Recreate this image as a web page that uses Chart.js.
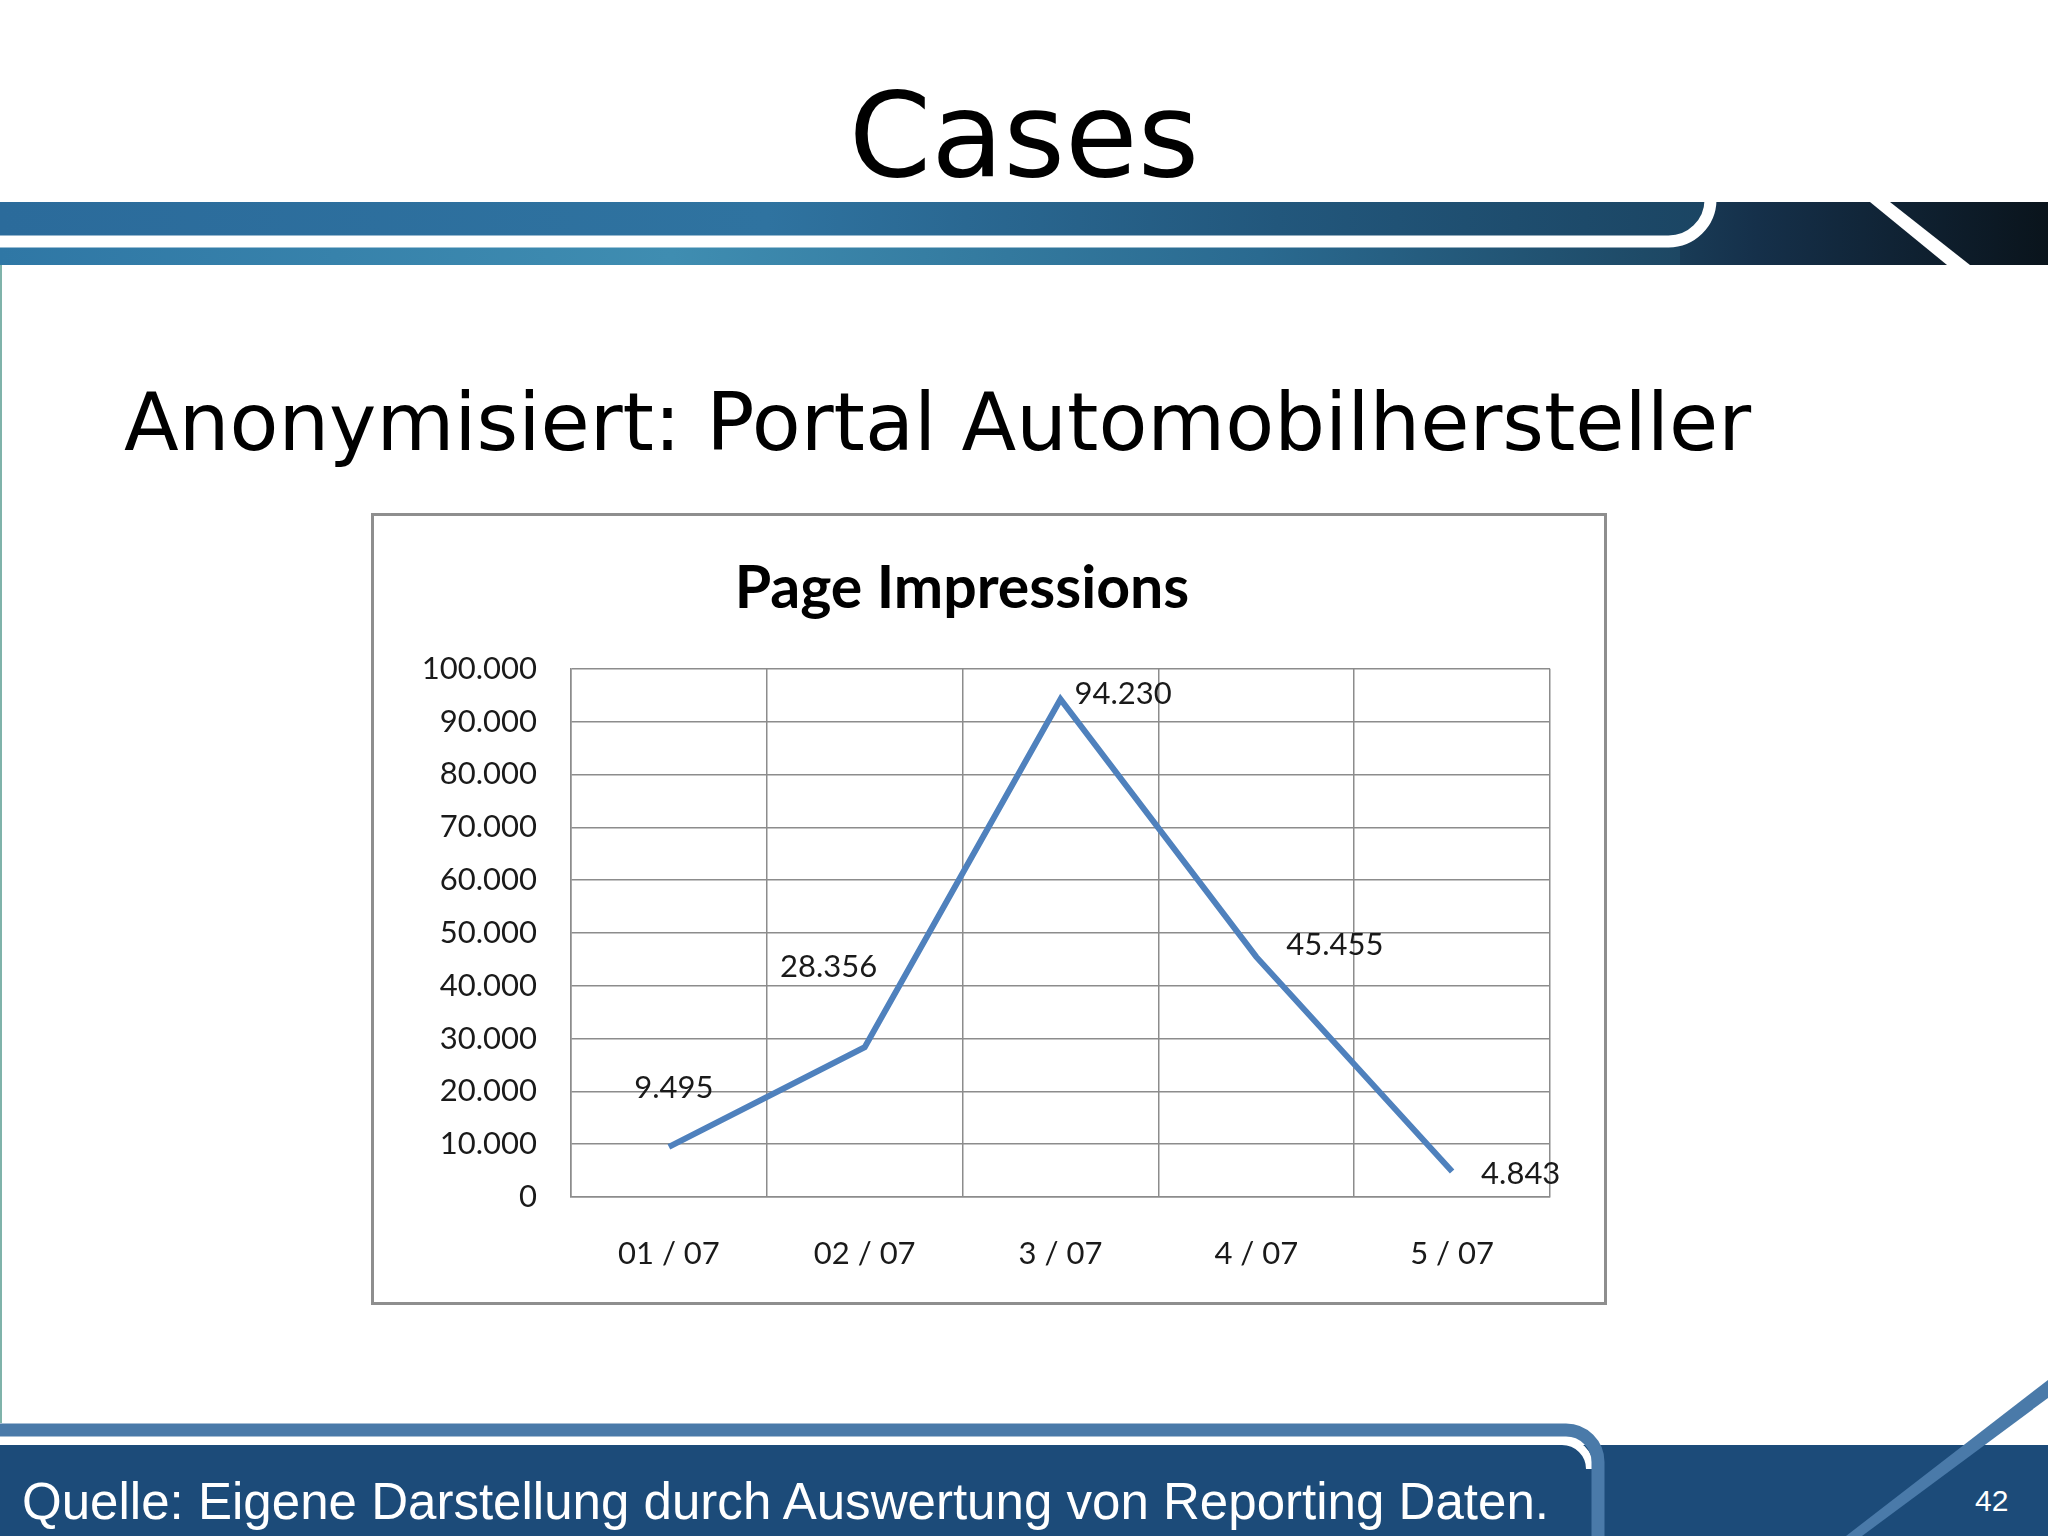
<!DOCTYPE html>
<html lang="de">
<head>
  <meta charset="UTF-8">
  <title>Cases</title>
  <script src="https://cdn.jsdelivr.net/npm/chart.js"></script>
  <style>
    html, body { margin: 0; padding: 0; background: #fff; }
    body { width: 2048px; height: 1536px; position: relative; overflow: hidden; font-family: "DejaVu Sans", Verdana, sans-serif; }
    #deko { position: absolute; left: 0; top: 0; }
    h1 { position: absolute; left: 0; top: 76px; width: 2048px; margin: 0; text-align: center; font-weight: normal; font-size: 118px; line-height: 1; color: #000; }
    h2 { position: absolute; left: 124px; top: 383px; margin: 0; font-weight: normal; font-size: 80px; line-height: 1; color: #000; white-space: nowrap; }
    .chart-box { position: absolute; left: 371px; top: 513px; width: 1236px; height: 792px; box-sizing: border-box; border: 3px solid #8e8e8e; background: #fff; }
    .chart-box canvas { position: absolute; left: 0; top: 0; }
    #quelle { position: absolute; left: 22px; top: 1475px; margin: 0; font-family: "Liberation Sans", Arial, sans-serif; font-size: 52px; line-height: 1; color: #fff; white-space: nowrap; transform-origin: 0 0; }
    #seite { position: absolute; left: 1975px; top: 1486px; font-family: "Liberation Sans", Arial, sans-serif; font-size: 30px; line-height: 1; color: #fff; }
  </style>
</head>
<body>
  <svg id="deko" width="2048" height="1536">
    <defs>
      <linearGradient id="streifenOben" x1="0" x2="1" y1="0" y2="0">
        <stop offset="0" stop-color="#2b6b9b"/>
        <stop offset="0.45" stop-color="#2f73a0"/>
        <stop offset="0.75" stop-color="#22577c"/>
        <stop offset="1" stop-color="#1b4563"/>
      </linearGradient>
      <linearGradient id="streifenUnten" x1="0" x2="1" y1="0" y2="0">
        <stop offset="0" stop-color="#2f77a5"/>
        <stop offset="0.4" stop-color="#3f8db1"/>
        <stop offset="0.75" stop-color="#2a6a90"/>
        <stop offset="1" stop-color="#1d4763"/>
      </linearGradient>
      <linearGradient id="dunkel" x1="0" x2="1" y1="0" y2="0">
        <stop offset="0" stop-color="#1d4763"/>
        <stop offset="0.35" stop-color="#15304a"/>
        <stop offset="1" stop-color="#0a141c"/>
      </linearGradient>
    </defs>
    <!-- Kopfband -->
    <rect x="1600" y="202" width="448" height="63" fill="url(#dunkel)"/>
    <rect x="0" y="247" width="1680" height="18" fill="url(#streifenUnten)"/>
    <path d="M0 202 H1704 V206 A34 34 0 0 1 1670 236 H0 Z" fill="url(#streifenOben)"/>
    <path d="M0 241.5 H1668 A42 42 0 0 0 1710.5 200" fill="none" stroke="#fff" stroke-width="12"/>
    <polygon points="1870,202 1890,202 1970,265 1947,265" fill="#fff"/>
    <rect x="0" y="265" width="2" height="1158" fill="#7fb3aa"/>
    <!-- Fussband -->
    <rect x="0" y="1445" width="2048" height="91" fill="#1c4b79"/>
    <path d="M0 1441 H1562 A28 28 0 0 1 1590 1469" fill="none" stroke="#fff" stroke-width="8"/>
    <path d="M0 1430 H1566 A32 32 0 0 1 1598 1462 V1536" fill="none" stroke="#4a7aa9" stroke-width="13"/>
    <polygon points="2048,1380 2048,1398 1862,1536 1846,1536" fill="#4a7aa9"/>
  </svg>

  <h1>Cases</h1>
  <h2>Anonymisiert: Portal Automobilhersteller</h2>

  <div class="chart-box">
    <canvas id="piChart" width="1230" height="786" style="width:1230px;height:786px"></canvas>
  </div>

  <div id="quelle">Quelle: Eigene Darstellung durch Auswertung von Reporting Daten.</div>
  <div id="seite">42</div>

  <script>
    // Werte aus dem Diagramm
    const months = ['01 / 07', '02 / 07', '3 / 07', '4 / 07', '5 / 07'];
    const pageImpressions = [9495, 28356, 94230, 45455, 4843];
    const yMin = 0;
    const yMax = 100000;
    const yStep = 10000;

    function deNum(v) {
      return String(v).replace(/\B(?=(\d{3})+(?!\d))/g, '.');
    }

    // Datenbeschriftungen wie im Excel-Diagramm (manuell verschoben)
    const pointLabelPlugin = {
      id: 'pointLabels',
      afterDatasetsDraw(chart, args, opts) {
        const ctx = chart.ctx;
        const meta = chart.getDatasetMeta(0);
        ctx.save();
        ctx.font = opts.font;
        ctx.fillStyle = opts.color;
        ctx.textBaseline = 'middle';
        meta.data.forEach((pt, i) => {
          const [dx, dy, align] = opts.offsets[i];
          ctx.textAlign = align;
          ctx.fillText(deNum(chart.data.datasets[0].data[i]), pt.x + dx, pt.y + dy);
        });
        ctx.restore();
      }
    };

    async function renderChart() {
      try {
        await Promise.all([document.fonts.load('bold 59px Lato'), document.fonts.load('31px Lato')]);
      } catch (e) {}

      const tickFont = { family: 'Lato', size: 31 };
      const gridColor = '#8c8c8c';

      const ctx = document.getElementById('piChart').getContext('2d');
      new Chart(ctx, {
        type: 'line',
        data: {
          labels: months,
          datasets: [{
            label: 'Page Impressions',
            data: pageImpressions,
            borderColor: '#4f81bd',
            borderWidth: 6,
            pointRadius: 0,
            tension: 0,
            fill: false
          }]
        },
        options: {
          responsive: false,
          animation: false,
          layout: { padding: { left: 0, right: 54, top: 0, bottom: 0 } },
          plugins: {
            legend: { display: false },
            tooltip: { enabled: false },
            title: {
              display: true,
              text: 'Page Impressions',
              color: '#000',
              font: { family: 'Lato', size: 59, weight: 'bold' },
              padding: { top: 38, bottom: 44 }
            },
            pointLabels: {
              font: '31px Lato',
              color: '#1a1a1a',
              offsets: [[5, -59, 'center'], [-36, -80, 'center'], [14, -5, 'left'], [30, -12, 'left'], [29, 3, 'left']]
            }
          },
          scales: {
            x: {
              offset: true,
              grid: { offset: true, color: gridColor, lineWidth: 1.5, drawTicks: false },
              border: { color: gridColor, width: 1.5 },
              ticks: { font: tickFont, color: '#1a1a1a', padding: 38 },
              afterFit(scale) { scale.height = 105; }
            },
            y: {
              min: yMin,
              max: yMax,
              grid: { color: gridColor, lineWidth: 1.5, drawTicks: false },
              border: { color: gridColor, width: 1.5 },
              ticks: { stepSize: yStep, font: tickFont, color: '#1a1a1a', padding: 34, callback: v => deNum(v) },
              afterFit(scale) { scale.width = 197; }
            }
          }
        },
        plugins: [pointLabelPlugin]
      });
    }

    // Fusszeile auf die Breite der Vorlage bringen
    const quelle = document.getElementById('quelle');
    const w = quelle.getBoundingClientRect().width;
    quelle.style.transform = 'scaleX(' + (1527 / w) + ')';

    renderChart();
  </script>
</body>
</html>
